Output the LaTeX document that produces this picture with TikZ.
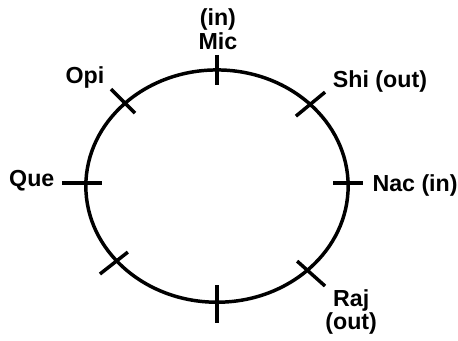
\documentclass[tikz,border=0pt]{standalone}
\usepackage{fontspec}
\setmainfont{Liberation Sans}
\begin{document}
\begin{tikzpicture}[line join = round, line cap=butt,font=\fontsize{22}{22}\selectfont\bfseries,
  lbl/.style={inner sep=0pt,align=center},
  tick/.style={line width=3.3pt}]
                \useasboundingbox (-7.23,-5.13) rectangle (8.03,6.2);
                \draw[line width=3.3pt] (0,0) ellipse (4.37 and 3.87);
                % ticks on the ring
                \draw[tick] (0,4.37)--(0,3.37);
                \draw[tick] (0,-3.3)--(0,-4.57);
                \draw[tick] (-5.17,0.1)--(-3.83,0.1);
                \draw[tick] (3.87,0.1)--(4.87,0.1);
                \draw[tick] (-3.53,3.23)--(-2.73,2.43);
                \draw[tick] (3.6,3.13)--(2.63,2.33);
                \draw[tick] (-2.97,-2.2)--(-3.9,-2.93);
                \draw[tick] (2.67,-2.5)--(3.6,-3.33);
                % names
                \node[lbl] (mic) at (0.03,5.23) {(in)\\Mic};
                \node[lbl] (opi) at (-4.4,3.63) {Opi};
                \node[lbl] (shi) at (5.43,3.47) {Shi (out)};
                \node[lbl] (que) at (-6.17,0.17) {Que};
                \node[lbl] (nac) at (6.6,0.03) {Nac (in)};
                \node[lbl] (raj) at (4.47,-4.2) {Raj\\(out)};
            \end{tikzpicture}
\end{document}
